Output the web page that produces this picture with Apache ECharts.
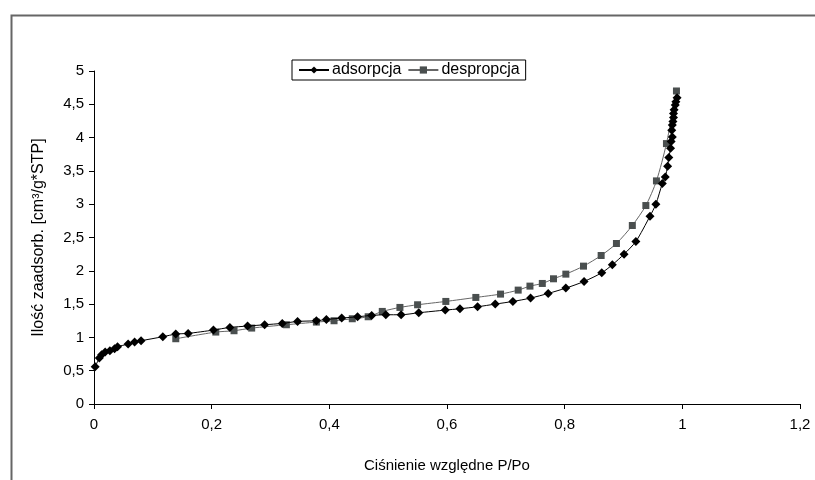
<!DOCTYPE html>
<html>
<head>
<meta charset="utf-8">
<script src="https://cdn.jsdelivr.net/npm/echarts@6/dist/echarts.min.js"></script>
<style>html,body{margin:0;padding:0;background:#fff}#c{width:815px;height:480px}</style>
</head>
<body>
<div id="c"></div>
<script>
const adsX = [0.002,0.009,0.013,0.019,0.027,0.035,0.040,0.058,0.069,0.080,0.117,0.139,0.160,0.203,0.231,0.261,0.290,0.320,0.346,0.378,0.395,0.421,0.448,0.472,0.496,0.522,0.552,0.597,0.622,0.652,0.682,0.712,0.742,0.772,0.802,0.833,0.863,0.881,0.901,0.921,0.945,0.955,0.966,0.971,0.975,0.977,0.980,0.981,0.983,0.982,0.983,0.984,0.985,0.985,0.986,0.988,0.989,0.991];
const adsY = [0.56,0.69,0.74,0.78,0.80,0.83,0.86,0.90,0.93,0.95,1.01,1.05,1.06,1.11,1.15,1.17,1.19,1.21,1.24,1.25,1.27,1.29,1.31,1.33,1.34,1.34,1.37,1.41,1.43,1.46,1.50,1.54,1.59,1.66,1.74,1.84,1.97,2.09,2.25,2.44,2.82,3.00,3.31,3.41,3.57,3.70,3.84,3.94,4.01,4.11,4.19,4.24,4.30,4.36,4.42,4.49,4.54,4.60];
const desX = [0.139,0.207,0.238,0.268,0.327,0.378,0.408,0.439,0.466,0.490,0.520,0.550,0.598,0.649,0.691,0.721,0.741,0.762,0.781,0.802,0.832,0.862,0.888,0.915,0.938,0.956,0.973,0.990];
const desY = [0.98,1.08,1.10,1.14,1.19,1.23,1.25,1.28,1.31,1.39,1.45,1.49,1.54,1.60,1.65,1.71,1.77,1.81,1.88,1.95,2.07,2.23,2.41,2.68,2.98,3.35,3.91,4.70];
const seriesNames = ['adsorpcja','despropcja'];
const xTitle = 'Ciśnienie względne P/Po';
const yTitle = 'Ilość zaadsorb. [cm³/g*STP]';

const zip = (a,b) => a.map((v,i)=>[v,b[i]]);
const fmt = v => String(+v.toFixed(2)).replace('.', ',');
const font = 'Liberation Sans, Arial, sans-serif';

const chart = echarts.init(document.getElementById('c'));
chart.setOption({
  animation: false,
  backgroundColor: '#fff',
  textStyle: {fontFamily: font},
  graphic: [{
    type: 'rect', left: 9, top: 13, shape: {width: 900, height: 600},
    style: {fill: 'none', stroke: '#666', lineWidth: 2}, silent: true, z: -1
  }],
  legend: {
    left: 292, top: 60,
    padding: [2, 6, 2, 6],
    borderColor: '#000', borderWidth: 1,
    itemWidth: 30, itemHeight: 9, itemGap: 6,
    textStyle: {fontFamily: font, fontSize: 16, color: '#000', padding: [0,0,0,-2]},
    data: seriesNames
  },
  grid: {left: 94, right: 15, top: 71, bottom: 76, containLabel: false},
  xAxis: {
    type: 'value', min: 0, max: 1.2, interval: 0.2,
    name: xTitle, nameLocation: 'middle', nameGap: 54,
    nameTextStyle: {fontFamily: font, fontSize: 15, color: '#000'},
    axisLine: {lineStyle: {color: '#000', width: 1}},
    axisTick: {show: true, length: 5, lineStyle: {color: '#000'}},
    axisLabel: {color: '#000', fontSize: 15, fontFamily: font, margin: 13, formatter: fmt},
    splitLine: {show: false}
  },
  yAxis: {
    type: 'value', min: 0, max: 5, interval: 0.5,
    name: yTitle, nameLocation: 'middle', nameGap: 47,
    nameTextStyle: {fontFamily: font, fontSize: 16, color: '#000'},
    axisLine: {show: true, lineStyle: {color: '#000', width: 1}},
    axisTick: {show: true, length: 5, lineStyle: {color: '#000'}},
    axisLabel: {color: '#000', fontSize: 15, fontFamily: font, margin: 10, formatter: fmt},
    splitLine: {show: false}
  },
  series: [{
    name: seriesNames[0], type: 'line', data: zip(adsX, adsY),
    smooth: 0.25, symbol: 'diamond', symbolSize: 9,
    itemStyle: {color: '#000'}, lineStyle: {color: '#000', width: 1}, z: 3
  }, {
    name: seriesNames[1], type: 'line', data: zip(desX, desY),
    smooth: 0.25, symbol: 'rect', symbolSize: 7,
    itemStyle: {color: '#4a4f4f'}, lineStyle: {color: '#666', width: 1}, z: 2
  }]
});
</script>
</body>
</html>
